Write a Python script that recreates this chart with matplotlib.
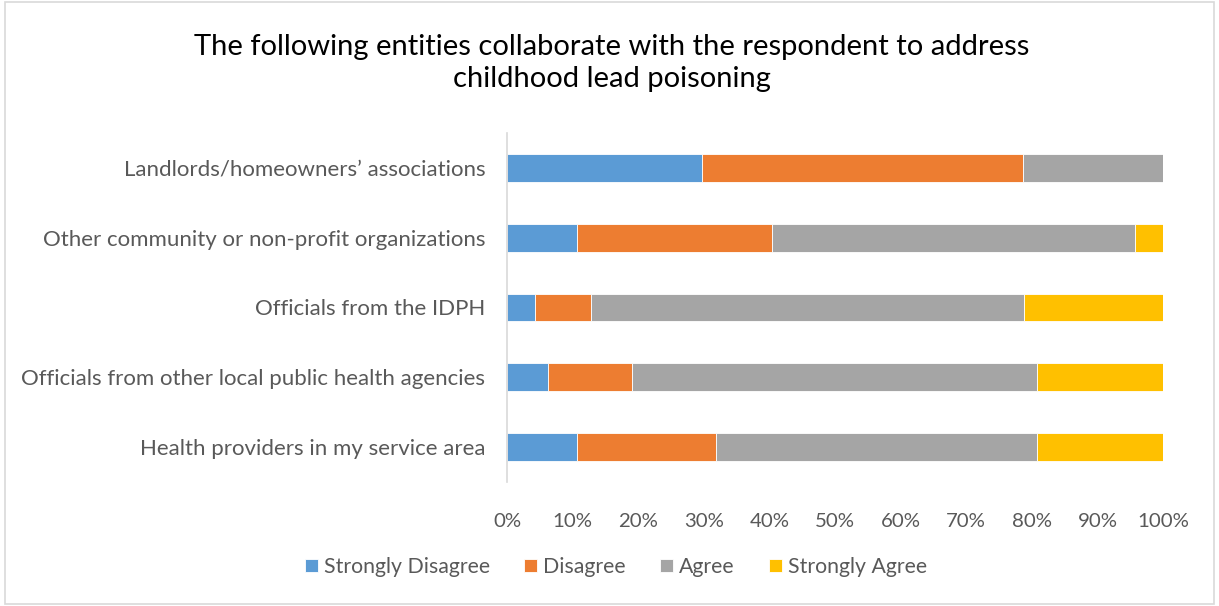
import numpy as np
import matplotlib.pyplot as plt
from matplotlib.patches import Rectangle

plt.rcParams['font.family'] = ['Lato', 'DejaVu Sans']

# 类别（自上而下）
categories = ['Landlords/homeowners\u2019 associations',
              'Other community or non-profit organizations',
              'Officials from the IDPH',
              'Officials from other local public health agencies',
              'Health providers in my service area']

# 各回答所占比例 (%)
strongly_disagree = [29.8, 10.6, 4.3, 6.3, 10.6]
disagree = [48.9, 29.8, 8.5, 12.8, 21.3]
agree = [21.3, 55.3, 66.0, 61.7, 48.9]
strongly_agree = [0.0, 4.3, 21.2, 19.2, 19.2]

series = ['Strongly Disagree', 'Disagree', 'Agree', 'Strongly Agree']
colors = ['#5B9BD5', '#ED7D31', '#A5A5A5', '#FFC000']
values = [strongly_disagree, disagree, agree, strongly_agree]

fig = plt.figure(figsize=(12.19, 6.06), dpi=100)
ax = fig.add_axes([507 / 1219, 1 - 482 / 606, 656 / 1219, 349 / 606])

y = np.arange(len(categories))
left = np.zeros(len(categories))
for name, vals, col in zip(series, values, colors):
    ax.barh(y, vals, left=left, height=0.4, color=col, label=name,
            edgecolor='white', linewidth=0.6)
    left += np.array(vals)

ax.set_xlim(0, 100)
ax.set_ylim(len(categories) - 0.5, -0.5)
ax.set_yticks(y)
ax.set_yticklabels(categories)
ax.set_xticks(np.arange(0, 101, 10))
ax.set_xticklabels([f'{v}%' for v in range(0, 101, 10)])
ax.tick_params(axis='both', length=0, colors='#595959')
ax.tick_params(axis='y', pad=15.5, labelsize=16)
ax.tick_params(axis='x', pad=22, labelsize=14.7)

for s in ['top', 'right', 'bottom']:
    ax.spines[s].set_visible(False)
ax.spines['left'].set_color('#D9D9D9')
ax.spines['left'].set_linewidth(1.2)

fig.text(612 / 1219, 1 - 63 / 606,
         'The following entities collaborate with the respondent to address\nchildhood lead poisoning',
         ha='center', va='center', fontsize=21, color='black', linespacing=1.3)

leg = fig.legend(loc='center', bbox_to_anchor=(616 / 1219, 1 - 567 / 606), ncol=4,
                 frameon=False, fontsize=15.3, handlelength=0.6, handleheight=0.6,
                 handletextpad=0.3, columnspacing=1.6)
for t in leg.get_texts():
    t.set_color('#595959')

# 图表外框
fig.patches.append(Rectangle((0.004, 0.004), 0.992, 0.992, transform=fig.transFigure,
                             fill=False, edgecolor='#D9D9D9', linewidth=1.2))

fig.savefig('out.png', dpi=100)
